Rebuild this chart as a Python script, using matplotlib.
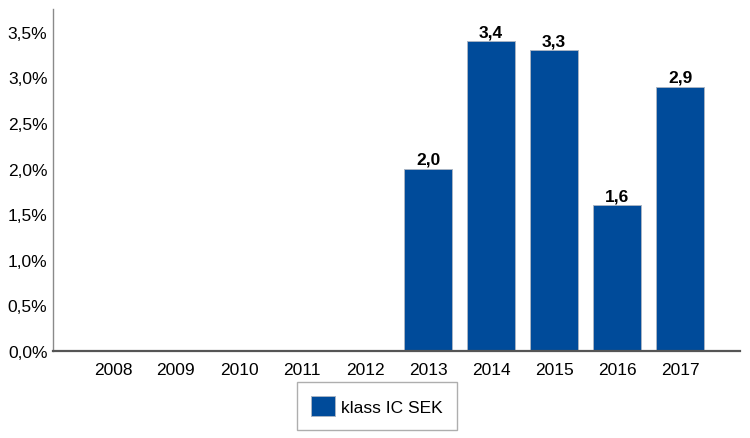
import matplotlib.pyplot as plt
import matplotlib.ticker as mticker
import numpy as np

plt.rcParams["font.family"] = ["Liberation Sans", "DejaVu Sans"]

years = ["2008", "2009", "2010", "2011", "2012", "2013", "2014", "2015", "2016", "2017"]
returns = [None, None, None, None, None, 2.0, 3.4, 3.3, 1.6, 2.9]
series_name = "klass IC SEK"

fig = plt.figure(figsize=(7.5, 4.39), dpi=100)
ax = fig.add_axes([0.0707, 0.198, 0.916, 0.779])

x = np.arange(len(years))
shown = [i for i, v in enumerate(returns) if v is not None]
vals = [returns[i] for i in shown]
bars = ax.bar(shown, vals, width=0.76, color="#004b9a", edgecolor="#a8b4c4",
              linewidth=0.7, label=series_name, zorder=2)

# value labels with decimal comma
for b, v in zip(bars, vals):
    ax.text(b.get_x() + b.get_width() / 2, v + 0.02, f"{v:.1f}".replace(".", ","),
            ha="center", va="bottom", fontsize=12.5, fontweight="bold")

ax.set_xticks(x)
ax.set_xticklabels(years, fontsize=12.5)
ax.set_xlim(-0.95, 9.95)
ax.set_ylim(0, 3.75)
ax.set_yticks(np.arange(0, 3.51, 0.5))
ax.yaxis.set_major_formatter(mticker.FuncFormatter(lambda v, p: f"{v:.1f}%".replace(".", ",")))
ax.tick_params(axis="y", length=0, labelsize=12.5, pad=4)
ax.tick_params(axis="x", length=0, pad=8)

for s in ["top", "right"]:
    ax.spines[s].set_visible(False)
ax.spines["left"].set_color("#8a8a8a")
ax.spines["left"].set_linewidth(1.0)
ax.spines["bottom"].set_color("#555555")
ax.spines["bottom"].set_linewidth(1.6)

leg = fig.legend(handles=[bars], labels=[series_name], loc="upper left",
                 bbox_to_anchor=(0.396, 0.127), fontsize=12.5, frameon=True,
                 fancybox=False, handlelength=1.4, handleheight=1.4,
                 handletextpad=0.35, borderpad=0.8, borderaxespad=0)
leg.get_frame().set_edgecolor("#9a9a9a")
leg.get_frame().set_linewidth(1.0)

fig.savefig("out.png", dpi=100)
